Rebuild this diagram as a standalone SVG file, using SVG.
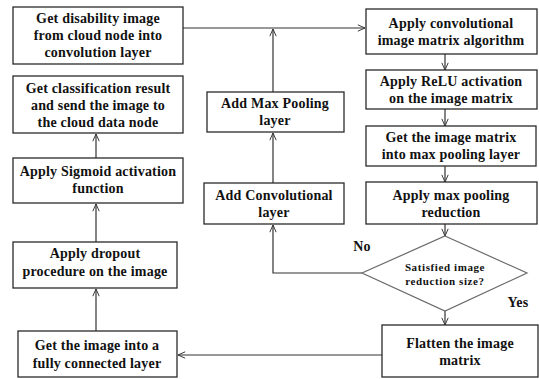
<svg xmlns="http://www.w3.org/2000/svg" width="539" height="379" viewBox="0 0 539 379">
<style>
.box{fill:#fff;stroke:#2a2a2a;stroke-width:1.3}
.dia{fill:#fff;stroke:#6a6a6a;stroke-width:1.2}
.t{font-family:"Liberation Serif","Times New Roman",serif;font-weight:bold;font-size:14px;letter-spacing:0.2px;fill:#111;text-anchor:middle}
.s{font-size:11px;letter-spacing:0.6px}
.c{fill:none;stroke:#333;stroke-width:1.2}
</style>
<defs>
<marker id="a" viewBox="0 0 10 10" refX="10" refY="5" markerWidth="8" markerHeight="8" orient="auto" markerUnits="userSpaceOnUse">
<path d="M1,1 L10,5 L1,9" fill="none" stroke="#333" stroke-width="1.2"/>
</marker>
</defs>
<g id="connectors">
<path class="c" d="M183,28 H365" marker-end="url(#a)"/>
<path class="c" d="M273,92 V29" marker-end="url(#a)"/>
<path class="c" d="M273,183 V133" marker-end="url(#a)"/>
<path class="c" d="M362,273 H273 V225" marker-end="url(#a)"/>
<path class="c" d="M445,54 V70" marker-end="url(#a)"/>
<path class="c" d="M445,109 V126" marker-end="url(#a)"/>
<path class="c" d="M445,166 V182" marker-end="url(#a)"/>
<path class="c" d="M445,224 V236" marker-end="url(#a)"/>
<path class="c" d="M445,311 V325" marker-end="url(#a)"/>
<path class="c" d="M382,355 H178" marker-end="url(#a)"/>
<path class="c" d="M96,331 V289" marker-end="url(#a)"/>
<path class="c" d="M96,242 V204" marker-end="url(#a)"/>
<path class="c" d="M96,158 V134" marker-end="url(#a)"/>
<text class="t" x="362" y="251">No</text>
<text class="t" x="518" y="307">Yes</text>
</g>
<g id="n1"><rect class="box" x="13" y="7" width="170" height="57"/>
<text class="t" x="98" y="23">Get disability image</text><text class="t" x="98" y="40">from cloud node into</text><text class="t" x="98" y="57">convolution layer</text></g>
<g id="n2"><rect class="box" x="13" y="76" width="170" height="57"/>
<text class="t" x="98" y="93">Get classification result</text><text class="t" x="98" y="110">and send the image to</text><text class="t" x="98" y="127">the cloud data node</text></g>
<g id="n3"><rect class="box" x="13" y="158" width="170" height="45"/>
<text class="t" x="98" y="176">Apply Sigmoid activation</text><text class="t" x="98" y="193">function</text></g>
<g id="n4"><rect class="box" x="13" y="242" width="164" height="46"/>
<text class="t" x="95" y="258">Apply dropout</text><text class="t" x="95" y="276">procedure on the image</text></g>
<g id="n5"><rect class="box" x="18" y="331" width="159" height="46"/>
<text class="t" x="97" y="350">Get the image into a</text><text class="t" x="97" y="368">fully connected layer</text></g>
<g id="n6"><rect class="box" x="207" y="92" width="137" height="40"/>
<text class="t" x="275" y="108">Add Max Pooling</text><text class="t" x="275" y="125">layer</text></g>
<g id="n7"><rect class="box" x="204" y="183" width="140" height="41"/>
<text class="t" x="274" y="200">Add Convolutional</text><text class="t" x="274" y="217">layer</text></g>
<g id="n8"><rect class="box" x="366" y="9" width="171" height="45"/>
<text class="t" x="451" y="28">Apply convolutional</text><text class="t" x="451" y="45">image matrix algorithm</text></g>
<g id="n9"><rect class="box" x="366" y="70" width="171" height="39"/>
<text class="t" x="451" y="86">Apply ReLU activation</text><text class="t" x="451" y="103">on the image matrix</text></g>
<g id="n10"><rect class="box" x="366" y="126" width="170" height="40"/>
<text class="t" x="451" y="142">Get the image matrix</text><text class="t" x="451" y="159">into max pooling layer</text></g>
<g id="n11"><rect class="box" x="366" y="182" width="171" height="42"/>
<text class="t" x="451" y="200">Apply max pooling</text><text class="t" x="451" y="217">reduction</text></g>
<g id="n12"><polygon class="dia" points="445,236 527,273 445,311 362,273"/>
<text class="t s" x="445" y="271">Satisfied image</text><text class="t s" x="445" y="285">reduction size?</text></g>
<g id="n13"><rect class="box" x="382" y="325" width="156" height="52"/>
<text class="t" x="460" y="348">Flatten the image</text><text class="t" x="460" y="365">matrix</text></g>
</svg>
